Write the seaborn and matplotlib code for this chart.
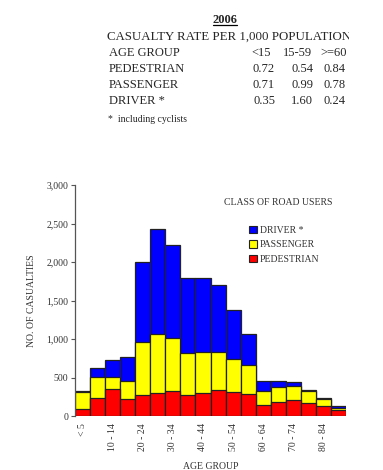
import matplotlib
matplotlib.use("Agg")
import matplotlib.pyplot as plt
import seaborn as sns
import pandas as pd
from matplotlib.patches import Patch
from matplotlib.lines import Line2D
from matplotlib.transforms import Bbox, TransformedBbox

age_groups = ["< 5", "5 - 9", "10 - 14", "15 - 19", "20 - 24", "25 - 29", "30 - 34",
              "35 - 39", "40 - 44", "45 - 49", "50 - 54", "55 - 59", "60 - 64",
              "65 - 69", "70 - 74", "75 - 79", "80 - 84", "85+"]
pedestrian = [90, 237, 345, 220, 276, 298, 319, 276, 298, 337, 306, 289, 147, 181, 203, 168, 134, 82]
passenger = [225, 272, 164, 233, 691, 772, 695, 544, 531, 500, 428, 367, 177, 199, 190, 151, 86, 26]
driver = [5, 108, 212, 307, 1027, 1356, 1209, 975, 966, 868, 638, 406, 129, 73, 43, 18, 13, 21]
shown_ticks = ["< 5", "10 - 14", "20 - 24", "30 - 34", "40 - 44", "50 - 54", "60 - 64", "70 - 74", "80 - 84"]

rate_cols = ["<15", "15-59", ">=60"]
rate_rows = ["PEDESTRIAN", "PASSENGER", "DRIVER *"]
rate_vals = [["0.72", "0.54", "0.84"], ["0.71", "0.99", "0.78"], ["0.35", "1.60", "0.24"]]

df = pd.DataFrame({"age": age_groups, "ped": pedestrian, "pas": passenger, "drv": driver})
df["pp"] = df["ped"] + df["pas"]
df["tot"] = df["pp"] + df["drv"]

sns.set_style("white")
plt.rcParams["font.family"] = ["Liberation Serif", "DejaVu Serif"]

W, H = 383, 470
fig = plt.figure(figsize=(W / 100, H / 100), dpi=100)
ax = fig.add_axes([75 / W, 1 - 416 / H, (346 - 75) / W, (416 - 185) / H])

edge = "#222222"
for col, color in [("tot", "#0000FF"), ("pp", "#FFFF00"), ("ped", "#FF0000")]:
    sns.barplot(data=df, x="age", y=col, color=color, width=1.0, edgecolor=edge,
                linewidth=0.9, saturation=1, ax=ax, order=age_groups)

ax.set_xlim(-0.5, len(age_groups) - 0.5)
ax.set_ylim(0, 3000)
ax.set_yticks([0, 500, 1000, 1500, 2000, 2500, 3000])
ax.set_yticklabels(["0", "500", "1,000", "1,500", "2,000", "2,500", "3,000"], fontsize=7, color="#333333")
pos = [age_groups.index(t) for t in shown_ticks]
ax.set_xticks(pos)
ax.set_xticklabels(shown_ticks, rotation=90, fontsize=7, color="#333333")
ax.tick_params(axis="x", length=0, pad=5)
ax.tick_params(axis="y", length=3, width=0.8, color="#555555", direction="out", pad=2, left=True)
for s in ["top", "right", "bottom"]:
    ax.spines[s].set_visible(False)
ax.spines["left"].set_color("#555555")
ax.spines["left"].set_linewidth(0.9)
ax.set_ylabel("NO. OF CASUALTIES", fontsize=7, color="#333333", labelpad=7)
ax.set_xlabel("AGE GROUP", fontsize=7, color="#333333", labelpad=8)

handles = [Patch(facecolor="#0000FF", edgecolor=edge, linewidth=0.8),
           Patch(facecolor="#FFFF00", edgecolor=edge, linewidth=0.8),
           Patch(facecolor="#FF0000", edgecolor=edge, linewidth=0.8)]
fig.text(278 / W, 1 - 202 / H, "CLASS OF ROAD USERS", fontsize=7, ha="center", va="center", color="#333333")
fig.legend(handles, ["DRIVER *", "PASSENGER", "PEDESTRIAN"], loc="upper left",
           bbox_to_anchor=(244 / W, 1 - 221 / H), frameon=False, fontsize=7,
           handlelength=0.8, handleheight=0.8, handletextpad=0.3, labelspacing=0.55,
           borderpad=0, labelcolor="#333333")

# header block
t2006 = fig.text(225 / W, 1 - 20 / H, "2006", fontsize=9, fontweight="bold", ha="center", va="center")
tc = fig.text(107 / W, 1 - 37 / H, "CASUALTY RATE PER 1,000 POPULATION", fontsize=9.3, ha="left", va="center")
tc.set_clip_box(TransformedBbox(Bbox.from_extents(0, 0, 349 / W, 1), fig.transFigure))
tc.set_clip_on(True)
row_y = [53, 69, 85, 101]
head_x = [271, 312, 347]
val_x = [275, 313, 346]
fig.text(109 / W, 1 - row_y[0] / H, "AGE GROUP", fontsize=9, ha="left", va="center")
for j, c in enumerate(rate_cols):
    fig.text(head_x[j] / W, 1 - row_y[0] / H, c, fontsize=9, ha="right", va="center")
for i, r in enumerate(rate_rows):
    y = 1 - row_y[i + 1] / H
    fig.text(109 / W, y, r, fontsize=9, ha="left", va="center")
    for j in range(3):
        fig.text(val_x[j] / W, y, rate_vals[i][j], fontsize=9, ha="right", va="center")
fig.text(108 / W, 1 - 119 / H, "*  including cyclists", fontsize=7, ha="left", va="center")

fig.canvas.draw()
bb = t2006.get_window_extent().transformed(fig.transFigure.inverted())
fig.add_artist(Line2D([bb.x0, bb.x1], [bb.y0 + 0.002, bb.y0 + 0.002], color="black", linewidth=0.9,
                      transform=fig.transFigure))

fig.savefig("out.png", dpi=100)
